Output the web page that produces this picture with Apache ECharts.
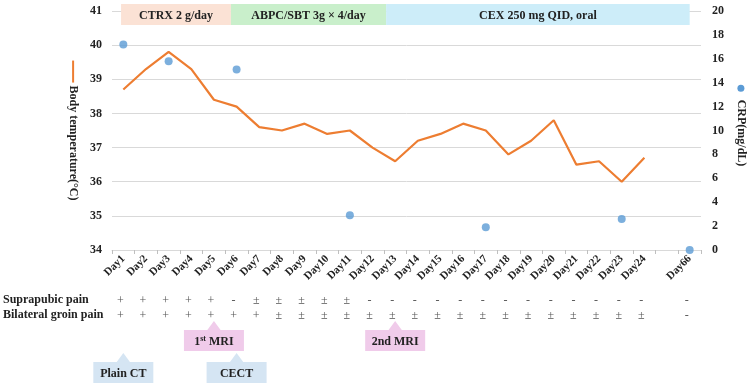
<!DOCTYPE html>
<html><head><meta charset="utf-8">
<script src="https://cdn.jsdelivr.net/npm/echarts@6/dist/echarts.min.js"></script>
<style>html,body{margin:0;padding:0;background:#fff}#c{width:750px;height:387px}</style>
</head><body><div id="c"></div>
<script>
// ---------- data ----------
const categories = ['Day1','Day2','Day3','Day4','Day5','Day6','Day7','Day8','Day9','Day10','Day11','Day12',
  'Day13','Day14','Day15','Day16','Day17','Day18','Day19','Day20','Day21','Day22','Day23','Day24','','Day66'];
const temperature = [38.7,39.3,39.8,39.3,38.4,38.2,37.6,37.5,37.7,37.4,37.5,37.0,
  36.6,37.2,37.4,37.7,37.5,36.8,37.2,37.8,36.5,36.6,36.0,36.7,null,null];
const crp = [17.2,null,15.8,null,null,15.1,null,null,null,null,2.9,null,
  null,null,null,null,1.9,null,null,null,null,null,2.6,null,null,0];
const tempAxis = {min:34, max:41, interval:1};
const crpAxis = {min:0, max:20, interval:2};
const painRows = ['Bilateral groin pain','Suprapubic pain'];
const suprapubic = ['+','+','+','+','+','-','±','±','±','±','±','-',
  '-','-','-','-','-','-','-','-','-','-','-','-','','-'];
const groin = ['+','+','+','+','+','+','+','±','±','±','±','±',
  '±','±','±','±','±','±','±','±','±','±','±','±','','-'];
const treatments = ['CTRX 2 g/day','ABPC/SBT 3g × 4/day','CEX 250 mg QID, oral'];
const treatmentStart = [-0.1, 4.75, 11.6];
const treatmentEnd = [4.75, 11.6, 25];
const imagingRows = ['CT','MRI'];
const imagingDays = ['Day1','Day5','Day6','Day13'];
const imagingRow = ['CT','MRI','CT','MRI'];
const imagingLabels = ['Plain CT','1{sup|st} MRI','CECT','2nd MRI'];

// ---------- styles ----------
const FONT = '"Liberation Serif","Times New Roman",serif';
const ORANGE = '#ED7D31', BLUE = '#5B9BD5';
const bannerColors = ['#FBE2D5','#C9EFCB','#CDEDF9'];
const calloutColors = {CT:'#D5E5F3', MRI:'#F0CBEA'};

const chart = echarts.init(document.getElementById('c'));
const GL = 112, GR = 49;
const lblStyle = {fontFamily:FONT, fontWeight:'bold', fontSize:12, color:'#222'};

const painData = [];
suprapubic.forEach((s,i)=>{ if (s) painData.push({value:[i,1], t:s}); });
groin.forEach((s,i)=>{ if (s) painData.push({value:[i,0], t:s}); });

chart.setOption({
  animation:false,
  grid:[
    {left:GL, right:GR, top:11, bottom:137, outerBoundsMode:'none'},
    {left:GL, right:GR, top:300, bottom:72, outerBoundsMode:'none'},
    {left:GL, right:GR, top:321, bottom:34, outerBoundsMode:'none'}
  ],
  xAxis:[
    {type:'category', gridIndex:0, data:categories, boundaryGap:true,
     axisLine:{show:true, lineStyle:{color:'#d9d9d9'}},
     axisTick:{show:true, interval:0, length:4, lineStyle:{color:'#bfbfbf'}},
     axisLabel:{interval:0, rotate:45, margin:7, fontFamily:FONT, fontWeight:'bold', fontSize:11, color:'#222'}},
    {type:'value', gridIndex:0, min:-0.5, max:categories.length-0.5, show:false},
    {type:'category', gridIndex:1, data:categories, boundaryGap:true, show:false},
    {type:'category', gridIndex:2, data:categories, boundaryGap:true, show:false}
  ],
  yAxis:[
    {type:'value', gridIndex:0, min:tempAxis.min, max:tempAxis.max, interval:tempAxis.interval,
     axisLine:{show:false}, axisTick:{show:false},
     splitLine:{lineStyle:{color:'#d9d9d9'}},
     axisLabel:Object.assign({margin:10}, lblStyle),
     name:'{l|}{s|}Body temperature(°C)', nameLocation:'middle', nameRotate:-90, nameGap:31,
     nameTextStyle:Object.assign({}, lblStyle, {rich:{
        l:{width:22, height:2, backgroundColor:ORANGE},
        s:{width:3}
     }})},
    {type:'value', gridIndex:0, min:crpAxis.min, max:crpAxis.max, interval:crpAxis.interval, position:'right',
     axisLine:{show:false}, axisTick:{show:false}, splitLine:{show:false},
     axisLabel:Object.assign({margin:11}, lblStyle),
     name:'{d|}{s|}CRP(mg/dL)', nameLocation:'middle', nameRotate:-90, nameGap:33,
     nameTextStyle:Object.assign({}, lblStyle, {padding:[0,10,0,0], rich:{
        d:{width:7, height:7, borderRadius:3.5, backgroundColor:BLUE},
        s:{width:8}
     }})},
    {type:'category', gridIndex:1, data:painRows, boundaryGap:false,
     axisLine:{show:false}, axisTick:{show:false}, splitLine:{show:false},
     axisLabel:Object.assign({align:'left', margin:GL-3, interval:0}, lblStyle)},
    {type:'category', gridIndex:2, data:imagingRows, boundaryGap:false, show:false}
  ],
  series:[
    {type:'custom', xAxisIndex:1, yAxisIndex:0, clip:false, z:1,
     data:treatments.map((t,i)=>[treatmentStart[i], treatmentEnd[i]]),
     renderItem(params, api){
       const s = api.coord([api.value(0), tempAxis.max]);
       const e = api.coord([api.value(1), tempAxis.max]);
       const y0 = s[1]-7, h = 21;
       return {type:'group', children:[
         {type:'rect', shape:{x:s[0], y:y0, width:e[0]-s[0], height:h}, style:{fill:bannerColors[params.dataIndex]}},
         {type:'text', style:{text:treatments[params.dataIndex], x:(s[0]+e[0])/2, y:y0+h/2+1,
           align:'center', verticalAlign:'middle', font:'bold 12px '+FONT, fill:'#222'}}
       ]};
     }},
    {name:'Body temperature', type:'line', xAxisIndex:0, yAxisIndex:0, data:temperature,
     symbol:'none', lineStyle:{color:ORANGE, width:2.2}, itemStyle:{color:ORANGE}, z:3},
    {name:'CRP', type:'scatter', xAxisIndex:0, yAxisIndex:1, data:crp,
     symbolSize:8, itemStyle:{color:BLUE}, z:4},
    {type:'custom', xAxisIndex:2, yAxisIndex:2, clip:false,
     data:painData,
     renderItem(params, api){
       const p = api.coord([api.value(0), api.value(1)]);
       return {type:'text', style:{text:painData[params.dataIndex].t, x:p[0]-3, y:p[1]+1,
         align:'center', verticalAlign:'middle', font:'12px '+FONT, fill:'#555'}};
     }},
    {type:'custom', xAxisIndex:3, yAxisIndex:3, clip:false,
     data:imagingDays.map((d,i)=>[categories.indexOf(d), imagingRows.indexOf(imagingRow[i])]),
     renderItem(params, api){
       const p = api.coord([api.value(0), api.value(1)]);
       const i = params.dataIndex;
       const col = calloutColors[imagingRow[i]];
       const w = 60, h = 21, th = 9, tw = 7;
       return {type:'group', children:[
         {type:'polygon', shape:{points:[[p[0],p[1]],[p[0]-tw,p[1]+th+0.5],[p[0]+tw,p[1]+th+0.5]]}, style:{fill:col}},
         {type:'rect', shape:{x:p[0]-w/2, y:p[1]+th, width:w, height:h}, style:{fill:col}},
         {type:'text', style:{text:imagingLabels[i], x:p[0], y:p[1]+th+h/2+1, align:'center', verticalAlign:'middle',
           font:'bold 12px '+FONT, fill:'#222',
           rich:{sup:{fontSize:8, fontWeight:'bold', fontFamily:FONT, verticalAlign:'top', padding:[0,0,6,0], fill:'#222'}}}}
       ]};
     }}
  ]
});
</script></body></html>
